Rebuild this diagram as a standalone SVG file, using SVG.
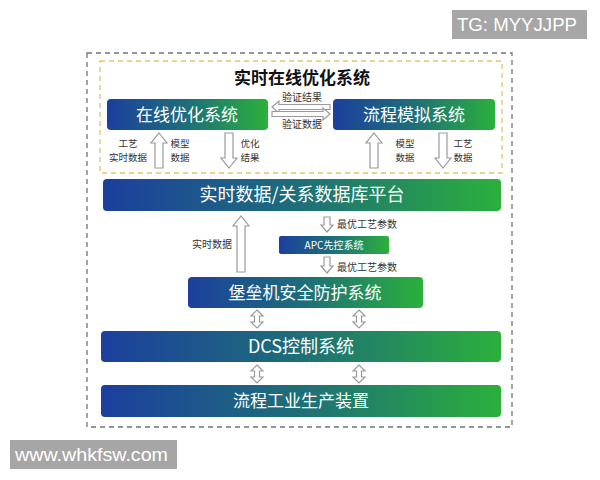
<svg xmlns="http://www.w3.org/2000/svg" width="600" height="480" viewBox="0 0 600 480">
<defs>
<linearGradient id="bg" x1="0" y1="0" x2="1" y2="0">
<stop offset="0" stop-color="#1c3f9e"/>
<stop offset="0.5" stop-color="#1e6f78"/>
<stop offset="1" stop-color="#2bb03b"/>
</linearGradient>
<style>
.bar{fill:url(#bg);}
.bt{font-family:"Noto Sans CJK SC","Noto Sans",sans-serif;fill:#fff;text-anchor:middle;}
.lb{font-family:"Noto Sans CJK SC","Noto Sans",sans-serif;fill:#333;font-size:10px;}
.sm{font-size:9.5px;}
.arr{fill:#fff;stroke:#9a9a9a;stroke-width:1.2;stroke-linejoin:miter;}
.wm{font-family:"Liberation Sans",Arial,sans-serif;fill:#fff;font-size:19px;}
</style>
</defs>
<rect width="600" height="480" fill="#fff"/>
<rect x="87" y="53" width="425" height="374" fill="none" stroke="#6b7777" stroke-width="1.3" stroke-dasharray="5,4"/>
<rect x="100" y="61" width="402" height="112" fill="none" stroke="#e5c268" stroke-width="1.3" stroke-dasharray="5,4"/>
<text x="302" y="84" class="lb" style="font-size:17px;font-weight:bold;fill:#111;text-anchor:middle">实时在线优化系统</text>

<g id="n-online">
<rect class="bar" x="107" y="99" width="161" height="31" rx="4"/>
<text class="bt" x="187" y="121" font-size="17">在线优化系统</text>
</g>
<g id="n-sim">
<rect class="bar" x="333" y="99" width="162" height="31" rx="4"/>
<text class="bt" x="414" y="121" font-size="17">流程模拟系统</text>
</g>
<g id="n-db">
<rect class="bar" x="103" y="179" width="398" height="32" rx="4"/>
<text class="bt" x="302" y="201" font-size="18">实时数据/关系数据库平台</text>
</g>
<g id="n-apc">
<rect class="bar" x="279" y="236" width="110" height="18" rx="2"/>
<text class="bt" x="334" y="249" font-size="10">APC先控系统</text>
</g>
<g id="n-bastion">
<rect class="bar" x="188" y="277" width="235" height="31" rx="4"/>
<text class="bt" x="305" y="299" font-size="17">堡垒机安全防护系统</text>
</g>
<g id="n-dcs">
<rect class="bar" x="101" y="331" width="400" height="31" rx="4"/>
<text class="bt" x="301" y="353" font-size="18">DCS控制系统</text>
</g>
<g id="n-plant">
<rect class="bar" x="101" y="385" width="400" height="32" rx="4"/>
<text class="bt" x="301" y="407" font-size="17">流程工业生产装置</text>
</g>

<g id="connectors">
<path class="arr" d="M272,107 L279,101 L279,104.5 L330,104.5 L330,109.5 L279,109.5 L279,113 Z"/>
<path class="arr" d="M330,114 L323,108 L323,111.5 L272,111.5 L272,116.5 L323,116.5 L323,120 Z"/>
<path class="arr" d="M159,133 L167,143 L163,143 L163,168 L155,168 L155,143 L151,143 Z"/>
<path class="arr" d="M229,168 L237,158 L233,158 L233,133 L225,133 L225,158 L221,158 Z"/>
<path class="arr" d="M374,133 L382,143 L378,143 L378,168 L370,168 L370,143 L366,143 Z"/>
<path class="arr" d="M443,168 L451,158 L447,158 L447,133 L439,133 L439,158 L435,158 Z"/>
<path class="arr" d="M241,216 L249,226 L245,226 L245,272 L237,272 L237,226 L233,226 Z"/>
<path class="arr" d="M327,232 L333,225 L330,225 L330,217 L324,217 L324,225 L321,225 Z"/>
<path class="arr" d="M327,273 L333,266 L330,266 L330,257 L324,257 L324,266 L321,266 Z"/>
<path class="arr" d="M257,310 L263,316 L259.5,316 L259.5,322 L263,322 L257,328 L251,322 L254.5,322 L254.5,316 L251,316 Z"/>
<path class="arr" d="M359,310 L365,316 L361.5,316 L361.5,322 L365,322 L359,328 L353,322 L356.5,322 L356.5,316 L353,316 Z"/>
<path class="arr" d="M257,365 L263,371 L259.5,371 L259.5,377 L263,377 L257,383 L251,377 L254.5,377 L254.5,371 L251,371 Z"/>
<path class="arr" d="M359,365 L365,371 L361.5,371 L361.5,377 L365,377 L359,383 L353,377 L356.5,377 L356.5,371 L353,371 Z"/>
<text class="lb" x="302" y="101" text-anchor="middle">验证结果</text>
<text class="lb" x="302" y="128" text-anchor="middle">验证数据</text>
<text class="lb sm" text-anchor="middle"><tspan x="128" y="146.5">工艺</tspan><tspan x="128" y="160.5">实时数据</tspan></text>
<text class="lb sm" text-anchor="middle"><tspan x="180" y="146.5">模型</tspan><tspan x="180" y="160.5">数据</tspan></text>
<text class="lb sm" text-anchor="middle"><tspan x="250" y="146.5">优化</tspan><tspan x="250" y="160.5">结果</tspan></text>
<text class="lb sm" text-anchor="middle"><tspan x="405" y="146.5">模型</tspan><tspan x="405" y="160.5">数据</tspan></text>
<text class="lb sm" text-anchor="middle"><tspan x="463" y="146.5">工艺</tspan><tspan x="463" y="160.5">数据</tspan></text>
<text class="lb" x="212" y="248" text-anchor="middle">实时数据</text>
<text class="lb" x="337" y="228">最优工艺参数</text>
<text class="lb" x="337" y="271">最优工艺参数</text>
</g>

<rect x="452" y="10" width="135" height="29" fill="#a6a6a6"/>
<text class="wm" x="457" y="31" textLength="120" lengthAdjust="spacingAndGlyphs">TG: MYYJJPP</text>
<rect x="10" y="440" width="167" height="29" fill="#a6a6a6"/>
<text class="wm" x="15" y="461" textLength="153" lengthAdjust="spacingAndGlyphs">www.whkfsw.com</text>
</svg>
